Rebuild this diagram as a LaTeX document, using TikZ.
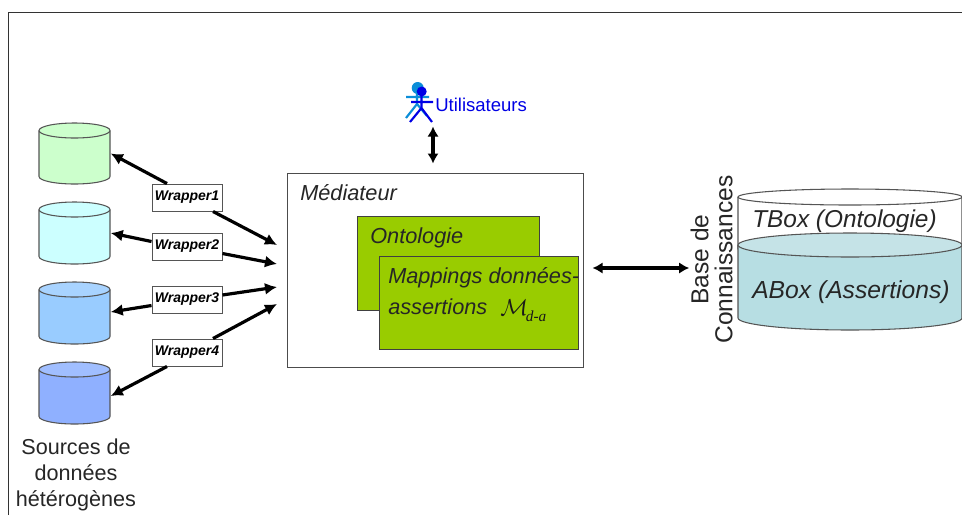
\documentclass[tikz,border=0pt]{standalone}
\usepackage{fontspec}
\setmainfont{Liberation Sans}
\newfontfamily\timesf{Liberation Serif}
\usetikzlibrary{arrows.meta}
\newcommand{\pxfont}[2]{\fontsize{#1}{#2}\selectfont}
\definecolor{dbA}{HTML}{CCFFCC}
\definecolor{dbB}{HTML}{CCFFFF}
\definecolor{dbC}{HTML}{99CCFF}
\definecolor{dbCt}{HTML}{A8D3FF}
\definecolor{dbD}{HTML}{8FB0FF}
\definecolor{dbDt}{HTML}{A0BEFF}
\definecolor{olive}{HTML}{99CC00}
\definecolor{aboxbody}{HTML}{B7DEE3}
\definecolor{aboxtop}{HTML}{C5E3E7}
\definecolor{edge}{HTML}{555555}
\newcommand{\cyl}[8]{% name, cx, rx, ytop, ybot, ry, body, top
  \fill[#7] ({#2-#3},{#4+#6}) -- ({#2-#3},{#5-#6}) arc[start angle=180,end angle=0,x radius=#3,y radius=#6]
    -- ({#2+#3},{#4+#6}) -- cycle;
  \draw[cylline] ({#2-#3},{#4+#6}) -- ({#2-#3},{#5-#6}) arc[start angle=180,end angle=0,x radius=#3,y radius=#6]
    -- ({#2+#3},{#4+#6});
  \draw[cylline,fill=#8] (#2,{#4+#6}) ellipse[x radius=#3,y radius=#6];
  \node[inner sep=0pt,minimum width={2*#3*0.75pt},minimum height={(#5-#4)*0.75pt}] (#1) at (#2,{(#4+#5)/2}) {};
}
\tikzset{
  x=0.75pt,y=-0.75pt,
  cylline/.style={draw=edge,line width=0.8pt},
  wrapbox/.style={draw=edge,fill=white,line width=0.7pt,minimum width=52.5pt,minimum height=20.25pt,inner sep=0pt,font=\pxfont{10.5}{12}\bfseries\itshape},
  greenbox/.style={draw=black!75,fill=olive,line width=0.75pt,inner sep=0pt},
  arr/.style={line width=2.4pt,-{Latex[length=9pt,width=9pt]}},
  darr/.style={line width=2.4pt,{Latex[length=7.5pt,width=8.5pt]}-{Latex[length=7.5pt,width=8.5pt]}},
  lab/.style={inner sep=0pt,anchor=base west,font=\pxfont{16.3}{20}\itshape,text=black!85},
}
\begin{document}
\begin{tikzpicture}
\useasboundingbox (0,0) rectangle (962,515);
\fill[white] (0,0) rectangle (962,515);
\draw[line width=0.75pt,black!80] (8,515) -- (8,12) -- (962,12);

% sources
\cyl{dba}{74.5}{35.5}{123}{184}{7.5}{dbA}{dbA}
\cyl{dbb}{74.5}{35.5}{202}{264}{7.5}{dbB}{dbB}
\cyl{dbc}{74.5}{35.5}{282}{344}{7.5}{dbC}{dbCt}
\cyl{dbd}{74.5}{35.5}{362}{424}{7.5}{dbD}{dbDt}
\node[align=center,inner sep=0pt,font=\pxfont{16.2}{19.5},text=black!85] (src) at (76,475) {Sources de\\données\\hétérogènes};

% wrappers
\node[wrapbox] (w1) at (187,197.5) {Wrapper1};
\node[wrapbox] (w2) at (187,246.5) {Wrapper2};
\node[wrapbox] (w3) at (187,299.5) {Wrapper3};
\node[wrapbox] (w4) at (187,352.5) {Wrapper4};

% mediator
\node[draw=black!70,fill=white,line width=0.75pt,minimum width=222pt,minimum height=145.5pt,inner sep=0pt] (med) at (435,270) {};
\node[lab] (medl) at (300,200) {Médiateur};
\node[greenbox,minimum width=136.5pt,minimum height=70.5pt] (onto) at (448,263) {};
\node[lab] (ontol) at (370,243) {Ontologie};
\node[greenbox,minimum width=149.25pt,minimum height=69.75pt] (map) at (478.5,302.5) {};
\node[lab] (mapl) at (388,283) {Mappings données-};
\node[lab] (mapm) at (388,314) {assertions};
\node[inner sep=0pt,anchor=base west,text=black!90] (mds) at (500,315)
  {\pxfont{17}{20}$\mathcal{M}$\kern-1.5pt\raisebox{-4.5pt}{\timesf\itshape\pxfont{11.5}{14}d-a}};

% connection points on the mediator side
\coordinate (m1) at (277,245);
\coordinate (m2) at (277,264);
\coordinate (m3) at (277,287);
\coordinate (m4) at (277,304);

\draw[arr] ([shift={(-20,0)}]w1.north) -- ([shift={(0.5,0)}]dba.east);
\draw[arr] ([shift={(26,0)}]w1.south) -- (m1);
\draw[arr] ([shift={(0,-5)}]w2.west) -- ([shift={(0.5,0)}]dbb.east);
\draw[arr] ([shift={(0,7)}]w2.east) -- (m2);
\draw[arr] ([shift={(0,6)}]w3.west) -- ([shift={(0.5,-1)}]dbc.east);
\draw[arr] ([shift={(0,-4.5)}]w3.east) -- (m3);
\draw[arr] ([shift={(-20,0)}]w4.south) -- ([shift={(0.5,3)}]dbd.east);
\draw[arr] ([shift={(26,0)}]w4.north) -- (m4);

% users
\begin{scope}[line width=1.6pt]
  \draw[draw=cyan!75!blue] (406,97) -- (429,97) (417,91) -- (417,104) -- (406,118) (417,104) -- (427,116);
  \fill[cyan!75!blue] (417.7,88) circle[radius=6];
  \draw[draw=blue!90!black] (411,102) -- (433,102) (421.5,95) -- (421.5,108) -- (410,122) (421.5,108) -- (432,122);
  \fill[blue!90!black] (421.7,91.5) circle[radius=5];
\end{scope}
\node[inner sep=0pt,anchor=base west,font=\pxfont{13.9}{16},text=blue!90!black] (users) at (435,111) {Utilisateurs};
\draw[darr] ([shift={(-2,-46)}]med.north) -- ([shift={(-2,-9)}]med.north);

% knowledge base
\cyl{tb}{850}{112}{189}{257}{8}{white}{white}
\cyl{ab}{850}{112}{233}{330}{12}{aboxbody}{aboxtop}
\node[inner sep=0pt,anchor=base west,font=\pxfont{18.3}{20}\itshape,text=black!85] (tbl) at (752,227) {TBox (Ontologie)};
\node[inner sep=0pt,anchor=base west,font=\pxfont{18.5}{20}\itshape,text=black!85] (abl) at (752,298) {ABox (Assertions)};
\node[rotate=90,align=center,inner sep=0pt,font=\pxfont{18.4}{18},text=black!85] (kb) at (711.5,259.5) {Base de\\Connaissances};
\draw[darr] ([shift={(14,-34.5)}]map.east) -- ([shift={(-1,8.5)}]kb.north);
\end{tikzpicture}
\end{document}
